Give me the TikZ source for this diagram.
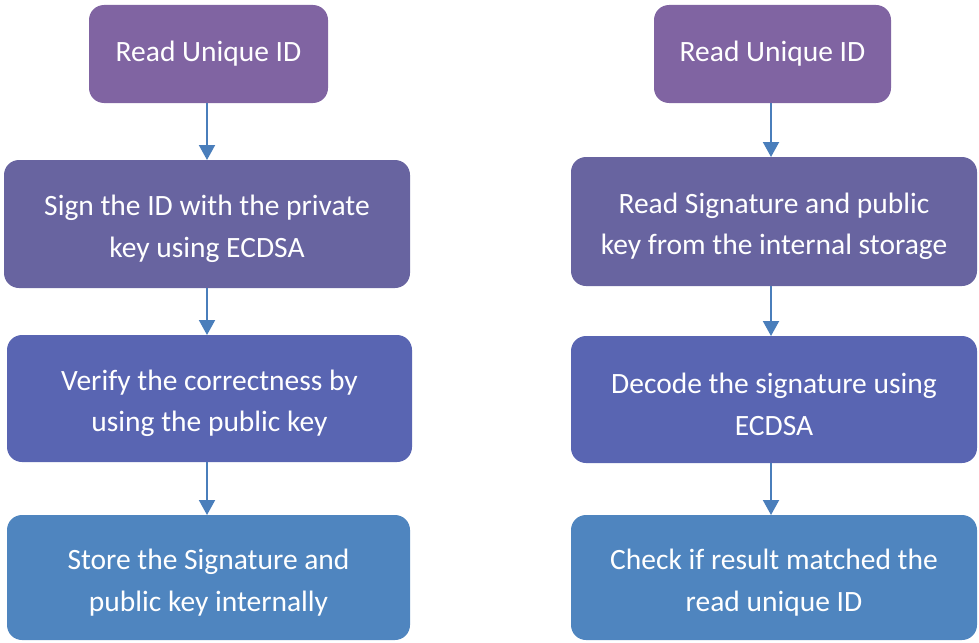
\documentclass[tikz,border=0pt]{standalone}
\usepackage{fontspec}
\setmainfont{Carlito}
\usetikzlibrary{arrows.meta}
\definecolor{stepA}{HTML}{8064A2}
\definecolor{stepB}{HTML}{6864A0}
\definecolor{stepC}{HTML}{5965B2}
\definecolor{stepD}{HTML}{4F85BF}
\definecolor{link}{HTML}{4A7EBB}
\tikzset{
  box/.style={draw=none, text=white, align=center,
    font=\fontsize{29.5}{41.5}\selectfont, inner sep=0pt},
  lowtext/.style={yshift=-5pt},
  flow/.style={draw=link, line width=2pt,
    -{Triangle[width=16pt,length=15pt]}}
}
\begin{document}
\begin{tikzpicture}[x=1pt,y=-1pt]
\useasboundingbox (0,0) rectangle (979,642);
% filled rounded box given by its corners, with a centred label
\newcommand{\stepbox}[8]{%
  \fill[#6, rounded corners=15pt] (#2,#3) rectangle (#4,#5);
  \coordinate (#1) at ({(#2+#4)/2},{(#3+#5)/2});
  \coordinate (#1-top) at ({(#2+#4)/2},#3);
  \coordinate (#1-bot) at ({(#2+#4)/2},#5);
  \node[box,#7] (#1-text) at (#1) {#8};}
% left column
\stepbox{l1}{89}{5}{328}{103}{stepA}{}{Read Unique ID}
\stepbox{l2}{4}{160}{410}{288}{stepB}{lowtext}{Sign the ID with the private\\key using ECDSA}
\stepbox{l3}{7}{335}{412}{462}{stepC}{lowtext}{Verify the correctness by\\using the public key}
\stepbox{l4}{7}{515}{410}{640}{stepD}{lowtext}{Store the Signature and\\public key internally}
% right column
\stepbox{r1}{654}{5}{891}{103}{stepA}{}{Read Unique ID}
\stepbox{r2}{571}{157}{977}{286}{stepB}{lowtext}{Read Signature and public\\key from the internal storage}
\stepbox{r3}{571}{336}{977}{463}{stepC}{lowtext}{Decode the signature using\\ECDSA}
\stepbox{r4}{571}{515}{977}{640}{stepD}{lowtext}{Check if result matched the\\read unique ID}
% connectors
\draw[flow] (l1-bot -| 207,0) -- (l2-top -| 207,0);
\draw[flow] (l2-bot -| 207,0) -- (l3-top -| 207,0);
\draw[flow] (l3-bot -| 207,0) -- (l4-top -| 207,0);
\draw[flow] (r1-bot -| 771,0) -- (r2-top -| 771,0);
\draw[flow] (r2-bot -| 771,0) -- (r3-top -| 771,0);
\draw[flow] (r3-bot -| 771,0) -- (r4-top -| 771,0);
\end{tikzpicture}
\end{document}
